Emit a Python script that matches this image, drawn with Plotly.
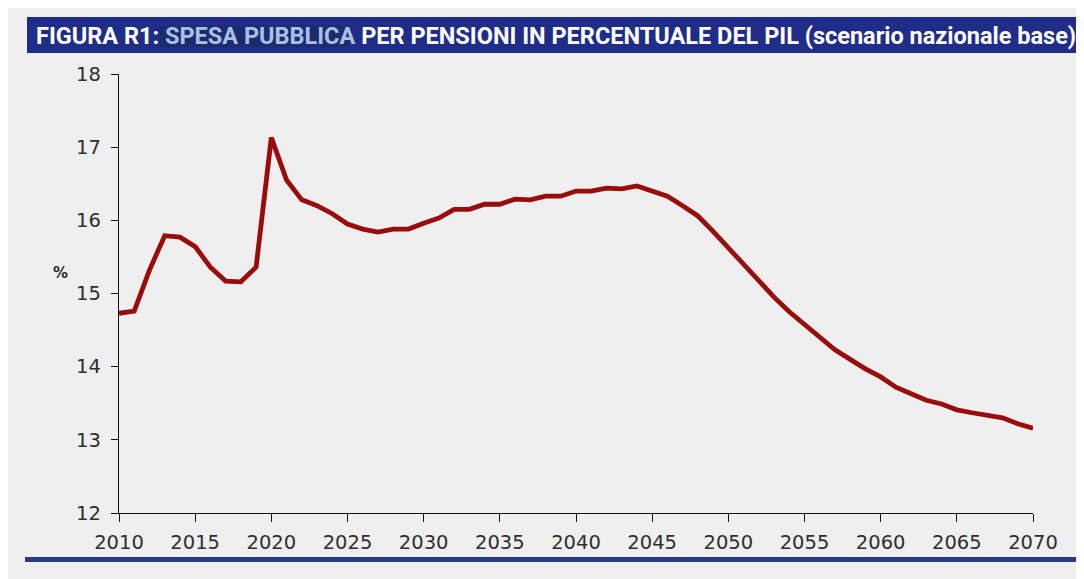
import plotly.graph_objects as go

years = list(range(2010, 2071))
spesa = [14.73, 14.76, 15.32, 15.79, 15.77, 15.64, 15.36, 15.17, 15.16, 15.36,
         17.13, 16.55, 16.28, 16.20, 16.09, 15.95, 15.88, 15.84, 15.88, 15.88,
         15.96, 16.03, 16.15, 16.15, 16.22, 16.22, 16.29, 16.28, 16.33, 16.33,
         16.40, 16.40, 16.44, 16.43, 16.47, 16.40, 16.33, 16.20, 16.06, 15.85,
         15.62, 15.39, 15.17, 14.95, 14.75, 14.57, 14.39, 14.23, 14.10, 13.97,
         13.86, 13.72, 13.63, 13.54, 13.49, 13.41, 13.37, 13.33, 13.30, 13.22,
         13.16]
x_ticks = list(range(2010, 2071, 5))
y_ticks = [12, 13, 14, 15, 16, 17, 18]

W, H = 1084, 579
OFF = 8  # page body margin
L, R, T, B = 119 - OFF, W - (1033 - OFF), 74 - OFF, H - (513 - OFF)

fig = go.Figure()
fig.add_trace(go.Scatter(x=years, y=spesa, mode="lines",
                         line=dict(color="#9a0c0c", width=4.8), hoverinfo="x+y"))

fig.update_layout(
    width=W, height=H,
    margin=dict(l=L, r=R, t=T, b=B),
    paper_bgcolor="#efefef", plot_bgcolor="#efefef",
    showlegend=False,
    font=dict(family="DejaVu Sans, Verdana, sans-serif", color="#2a2a2a"),
    xaxis=dict(range=[2010, 2070], tickvals=x_ticks, showgrid=False, zeroline=False,
               showline=True, linecolor="#111111", linewidth=1.3,
               ticks="outside", ticklen=8, tickcolor="#111111", tickwidth=1.3,
               ticklabelstandoff=3,
               tickfont=dict(size=19.5, family="DejaVu Sans, Verdana, sans-serif", color="#2e2e2e")),
    yaxis=dict(range=[12, 18], tickvals=y_ticks, showgrid=False, zeroline=False,
               showline=True, linecolor="#111111", linewidth=1.3,
               ticks="outside", ticklen=7, tickcolor="#111111", tickwidth=1.3,
               ticklabelstandoff=6,
               tickfont=dict(size=19.5, family="DejaVu Sans, Verdana, sans-serif", color="#2e2e2e")),
)

def px_x(px):
    return (px - OFF - L) / (W - L - R)

def px_y(py):
    return (H - B - (py - OFF)) / (H - T - B)

# title bar
fig.add_shape(type="rect", xref="paper", yref="paper",
              x0=px_x(27), x1=px_x(1090), y0=px_y(53), y1=px_y(17),
              fillcolor="#1f2d88", line=dict(width=0), layer="above")
fig.add_shape(type="rect", xref="paper", yref="paper",
              x0=px_x(160), x1=px_x(349), y0=px_y(47), y1=px_y(26),
              fillcolor="#1c2a6e", line=dict(width=0), layer="above")
# bottom line
fig.add_shape(type="rect", xref="paper", yref="paper",
              x0=px_x(25), x1=px_x(1090), y0=px_y(562), y1=px_y(557),
              fillcolor="#2a3b85", line=dict(width=0), layer="above")

fig.add_annotation(xref="paper", yref="paper", x=px_x(34), y=px_y(36),
                   xanchor="left", yanchor="middle", showarrow=False,
                   text="FIGURA R1: <span style='color:#a8c0e6'>SPESA PUBBLICA</span> PER PENSIONI IN PERCENTUALE DEL PIL (scenario nazionale base)",
                   font=dict(family="Roboto, sans-serif", size=23.5, color="#ffffff", weight="bold"))
fig.add_annotation(xref="paper", yref="paper", x=px_x(60), y=px_y(273),
                   xanchor="center", yanchor="middle", showarrow=False,
                   text="%", font=dict(family="DejaVu Sans, sans-serif", size=15,
                                       color="#2a2a2a", weight="bold"))

fig.write_html("out.html")
